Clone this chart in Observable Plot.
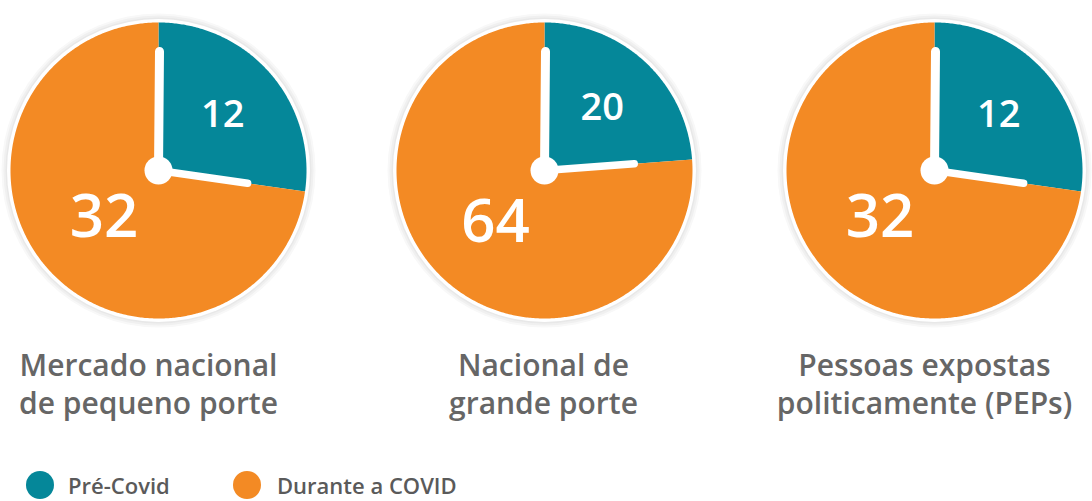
<!DOCTYPE html>
<html>
<head>
<meta charset="utf-8">
<script src="https://cdn.jsdelivr.net/npm/d3@7"></script>
<script src="https://cdn.jsdelivr.net/npm/@observablehq/plot@0.6"></script>
<style>
  html, body { margin: 0; padding: 0; background: #fff; overflow: hidden; width: 1092px; height: 501px; }
  #chart svg { display: block; }
  .legend { position: relative; height: 31px; font-family: "Open Sans", sans-serif; font-weight: 600; font-size: 22px; color: #5a5a5a; }
  .legend .item { position: absolute; top: 1px; display: flex; align-items: center; white-space: nowrap; line-height: 26px; }
  .legend .sw { width: 28px; height: 28px; border-radius: 50%; display: inline-block; }
</style>
</head>
<body>
<div id="chart"></div>
<div class="legend" id="legend"></div>
<script>
// ---- data ----
const categories = ["Mercado nacional\nde pequeno porte", "Nacional de\ngrande porte", "Pessoas expostas\npoliticamente (PEPs)"];
const preCovid = [12, 20, 12];
const duranteCovid = [32, 64, 32];
const seriesNames = ["Pré-Covid", "Durante a COVID"];

// ---- layout / style ----
const W = 1092, H = 470;
const centersX = [158, 544, 934];
const labelX = [148, 543, 924];
const cy = 170, R = 148;
const colors = ["#058799", "#F38A24"];
const font = "'Open Sans', sans-serif";

const wedges = [];
const hands = [];
const valueLabels = [];
const centers = [];
categories.forEach((cat, i) => {
  const cx = centersX[i];
  const vals = [preCovid[i], duranteCovid[i]];
  const total = vals[0] + vals[1];
  const split = 2 * Math.PI * vals[0] / total;
  const spans = [[0, split], [split, 2 * Math.PI]];
  spans.forEach(([a0, a1], s) => {
    const key = cat + "|" + s;
    const n = Math.max(4, Math.ceil((a1 - a0) / 0.01));
    wedges.push({key, series: seriesNames[s], x: cx, y: cy});
    for (let k = 0; k <= n; k++) {
      const t = a0 + (a1 - a0) * k / n;
      wedges.push({key, series: seriesNames[s], x: cx + R * Math.sin(t), y: cy - R * Math.cos(t)});
    }
    wedges.push({key, series: seriesNames[s], x: cx, y: cy});
    const mid = (a0 + a1) / 2;
    const rl = s === 0 ? 85 : 72;
    valueLabels.push({x: cx + rl * Math.sin(mid), y: cy - rl * Math.cos(mid), text: String(vals[s]), big: s === 1});
  });
  // minute hand: straight up; hour hand: at the split
  hands.push({x1: cx, y1: cy, x2: cx + 1, y2: cy - 119, minute: true});
  hands.push({x1: cx, y1: cy, x2: cx + 90 * Math.sin(split), y2: cy - 90 * Math.cos(split), minute: false});
  centers.push({x: cx, y: cy, label: cat, lx: labelX[i]});
});

const chart = Plot.plot({
  width: W,
  height: H,
  margin: 0,
  x: {domain: [0, W], range: [0, W], axis: null},
  y: {domain: [0, H], range: [0, H], axis: null},
  color: {domain: seriesNames, range: colors},
  style: {background: "white"},
  marks: [
    // soft shadow + white rim
    Plot.dot(centers, {x: "x", y: "y", r: R + 9, fill: "#f8f8f8"}),
    Plot.dot(centers, {x: "x", y: "y", r: R + 7, fill: "#f0f0f0"}),
    Plot.dot(centers, {x: "x", y: "y", r: R + 5, fill: "#e8e8e8"}),
    Plot.dot(centers, {x: "x", y: "y", r: R + 3.5, fill: "white"}),
    // pie wedges
    Plot.line(wedges, {x: "x", y: "y", z: "key", fill: "series", stroke: "none", curve: "linear"}),
    // value labels
    Plot.text(valueLabels.filter(d => !d.big), {x: "x", y: "y", text: "text", fill: "white", fontSize: 38, fontWeight: 600, fontFamily: font}),
    Plot.text(valueLabels.filter(d => d.big), {x: "x", y: "y", text: "text", fill: "white", fontSize: 60, fontWeight: 600, fontFamily: font}),
    // clock hands
    Plot.link(hands.filter(d => d.minute), {x1: "x1", y1: "y1", x2: "x2", y2: "y2", stroke: "white", strokeWidth: 9, strokeLinecap: "round"}),
    Plot.link(hands.filter(d => !d.minute), {x1: "x1", y1: "y1", x2: "x2", y2: "y2", stroke: "white", strokeWidth: 7.5, strokeLinecap: "round"}),
    Plot.dot(centers, {x: "x", y: "y", r: 14, fill: "white"}),
    // category labels
    Plot.text(centers, {x: "lx", y: () => 413, text: "label", lineAnchor: "bottom", lineHeight: 1.24, fill: "#666", fontSize: 30, fontWeight: 600, fontFamily: font})
  ]
});
document.getElementById("chart").appendChild(chart);

// legend
const legend = document.getElementById("legend");
const legendPos = [26, 233];
seriesNames.forEach((name, i) => {
  const item = document.createElement("div");
  item.className = "item";
  item.style.left = legendPos[i] + "px";
  const sw = document.createElement("span");
  sw.className = "sw";
  sw.style.background = colors[i];
  sw.style.marginRight = (i === 0 ? 14 : 16) + "px";
  const t = document.createElement("span");
  t.textContent = name;
  item.appendChild(sw);
  item.appendChild(t);
  legend.appendChild(item);
});
</script>
</body>
</html>
